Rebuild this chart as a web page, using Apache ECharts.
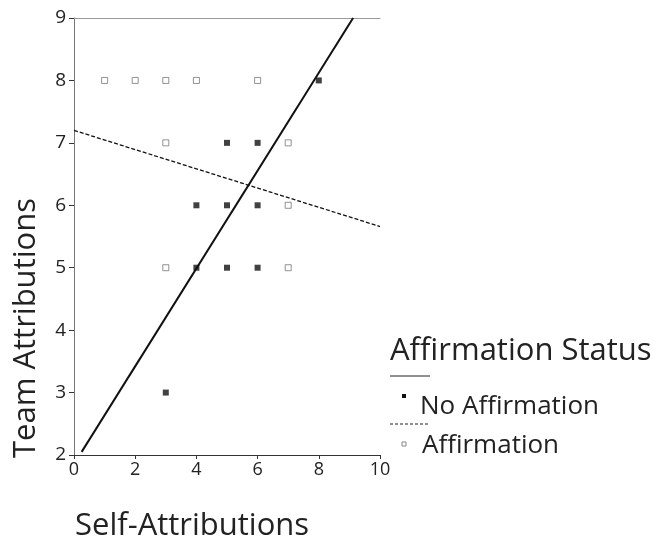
<!DOCTYPE html>
<html><head><meta charset="utf-8">
<script src="https://cdn.jsdelivr.net/npm/echarts@6/dist/echarts.min.js"></script>
<style>html,body{margin:0;padding:0;background:#fff}#c{width:654px;height:540px}</style>
</head><body><div id="c"></div>
<script>
var noAffirmation = [[3,3],[4,5],[5,5],[6,5],[4,6],[5,6],[6,6],[5,7],[6,7],[8,8]];
var affirmation = [[1,8],[2,8],[3,8],[4,8],[6,8],[3,7],[7,7],[7,6],[3,5],[7,5]];
var noAffirmationFit = [[0.25,2.05],[9.12,9]];
var affirmationFit = [[0,7.2],[10,5.66]];

var chart = echarts.init(document.getElementById('c'));
var font = '"Open Sans", "DejaVu Sans", sans-serif';
chart.setOption({
  animation:false,
  grid:{left:74, right:274, top:18, bottom:85},
  xAxis:[{
    type:'value', min:0, max:10, interval:2,
    axisLine:{lineStyle:{color:'#333', width:1}},
    axisTick:{show:true, length:4, lineStyle:{color:'#333'}},
    axisLabel:{color:'#222', fontSize:18, fontFamily:font, margin:6},
    splitLine:{show:false}
  },{
    type:'value', min:0, max:10, position:'top',
    axisLine:{show:true, lineStyle:{color:'#999', width:1}},
    axisTick:{show:false}, axisLabel:{show:false}, splitLine:{show:false}
  }],
  yAxis:{
    type:'value', min:2, max:9, interval:1,
    axisLine:{show:true, lineStyle:{color:'#777', width:1}},
    axisTick:{show:true, length:5, lineStyle:{color:'#333'}},
    axisLabel:{color:'#222', fontSize:19, fontFamily:font, margin:8},
    splitLine:{show:false}
  },
  graphic:[
    {type:'text', x:11, y:458, rotation:Math.PI/2, style:{text:'Team Attributions', font:'31px '+font, fill:'#222', verticalAlign:'top'}},
    {type:'text', x:75, y:511, style:{text:'Self-Attributions', font:'31px '+font, fill:'#222', verticalAlign:'top'}},
    {type:'text', x:390, y:336, style:{text:'Affirmation Status', font:'31px '+font, fill:'#222', verticalAlign:'top'}},
    {type:'line', shape:{x1:390,y1:376,x2:430,y2:376}, style:{stroke:'#222', lineWidth:1}},
    {type:'rect', shape:{x:402,y:394,width:4,height:4}, style:{fill:'#111'}},
    {type:'text', x:420, y:394, style:{text:'No Affirmation', font:'26px '+font, fill:'#222', verticalAlign:'top'}},
    {type:'line', shape:{x1:390,y1:424,x2:428,y2:424}, style:{stroke:'#222', lineWidth:1, lineDash:[3,2]}},
    {type:'rect', shape:{x:402,y:442,width:4,height:4}, style:{fill:'#fff', stroke:'#888', lineWidth:1}},
    {type:'text', x:422, y:433, style:{text:'Affirmation', font:'26px '+font, fill:'#222', verticalAlign:'top'}}
  ],
  series:[
    {type:'scatter', data:noAffirmation, symbol:'rect', symbolSize:6, itemStyle:{color:'#111'}},
    {type:'scatter', data:affirmation, symbol:'rect', symbolSize:6, itemStyle:{color:'#fff', borderColor:'#777', borderWidth:1}},
    {type:'line', data:noAffirmationFit, showSymbol:false, symbol:'none', lineStyle:{color:'#111', width:2}},
    {type:'line', data:affirmationFit, showSymbol:false, symbol:'none', lineStyle:{color:'#111', width:1.3, type:[4,2]}}
  ]
});
</script></body></html>
